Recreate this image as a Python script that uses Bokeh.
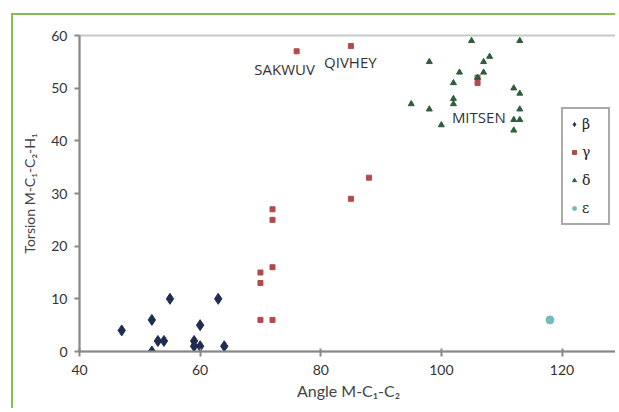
from bokeh.plotting import figure
from bokeh.models import ColumnDataSource, Range1d, Legend, LegendItem
from bokeh.core.properties import value
from bokeh.embed import file_html
from bokeh.resources import INLINE

# --- data -------------------------------------------------------------
beta_x = [47, 52, 52, 53, 54, 55, 59, 59, 60, 60, 63, 64]
beta_y = [4, 6, 0, 2, 2, 10, 2, 1, 5, 1, 10, 1]

gamma_x = [76, 85, 88, 85, 72, 72, 72, 70, 70, 70, 72, 106, 106]
gamma_y = [57, 58, 33, 29, 27, 25, 16, 15, 13, 6, 6, 51, 52]

delta_x = [105, 113, 98, 108, 107, 103, 107, 102, 106, 112, 113, 102, 102,
           95, 98, 113, 100, 112, 113, 112]
delta_y = [59, 59, 55, 56, 55, 53, 53, 51, 52, 50, 49, 48, 47,
           47, 46, 46, 43, 44, 44, 42]

eps_x = [118]
eps_y = [6]

label_names = ["SAKWUV", "QIVHEY", "MITSEN"]
label_x = [74, 84.9, 106.2]
label_y = [53.6, 54.9, 44.6]

x_ticks = [40, 60, 80, 100, 120]
y_ticks = [0, 10, 20, 30, 40, 50, 60]

# --- figure -----------------------------------------------------------
W, H = 604, 395
p = figure(width=W, height=H, output_backend="svg", toolbar_location=None,
           x_range=Range1d(40, 129.2), y_range=Range1d(0, 60),
           min_border_left=66, min_border_right=0, min_border_top=20,
           min_border_bottom=59)
p.styles = {"margin-left": "11px", "margin-top": "13px",
            "border-left": "2px solid #86bd55", "border-top": "2px solid #86bd55"}

p.background_fill_color = "white"
p.border_fill_color = "white"
p.outline_line_color = "#c8c8c8"
p.outline_line_width = 2
p.xgrid.visible = False
p.ygrid.visible = False

for ax in (p.xaxis[0], p.yaxis[0]):
    ax.axis_line_color = "#888888"
    ax.axis_line_width = 2
    ax.major_tick_line_color = "#888888"
    ax.major_tick_line_width = 2
    ax.major_tick_out = 5
    ax.major_tick_in = 0
    ax.minor_tick_line_color = None
    ax.major_label_text_font = "Lato"
    ax.major_label_text_font_size = "14px"
    ax.major_label_text_color = "#333333"
    ax.axis_label_text_font = "Lato"
    ax.axis_label_text_font_style = "normal"
    ax.axis_label_text_color = "#444444"

p.xaxis.ticker = x_ticks
p.yaxis.ticker = y_ticks
p.xaxis.major_tick_in = 3
p.xaxis.axis_label = "Angle M-C\u2081-C\u2082"
p.yaxis.axis_label = "Torsion M-C\u2081-C\u2082-H\u2081"
p.xaxis.axis_label_text_font_size = "16px"
p.yaxis.axis_label_text_font_size = "14px"
p.xaxis.axis_label_standoff = 3
p.yaxis.axis_label_standoff = 10
p.xaxis.major_label_standoff = 8
p.yaxis.major_label_standoff = 7

r_beta = p.scatter(beta_x, beta_y, marker="diamond", size=11,
                   color="#1f2d52")
r_gamma = p.scatter(gamma_x, gamma_y, marker="square", size=5,
                    color="#b04a4f")
r_delta = p.scatter(delta_x, delta_y, marker="triangle", size=6,
                    color="#2f5d3d")
r_eps = p.scatter(eps_x, eps_y, marker="circle", size=8,
                  color="#72bcbd")

src = ColumnDataSource(dict(x=label_x, y=label_y, t=label_names))
p.text("x", "y", text="t", source=src, text_font=value("Open Sans"),
       text_font_size="15px", text_color="#333333",
       text_align="center", text_baseline="middle")

legend = Legend(items=[
    LegendItem(label="\u03b2", renderers=[r_beta]),
    LegendItem(label="\u03b3", renderers=[r_gamma]),
    LegendItem(label="\u03b4", renderers=[r_delta]),
    LegendItem(label="\u03b5", renderers=[r_eps]),
], location=(482, 126))
legend.label_text_font = "DejaVu Serif"
legend.label_text_font_size = "14px"
legend.label_text_color = "#222222"
legend.border_line_color = "#555555"
legend.border_line_width = 2
legend.background_fill_alpha = 1
legend.glyph_width = 10
legend.glyph_height = 18
legend.label_height = 18
legend.label_standoff = 3
legend.spacing = 10
legend.padding = 6
legend.margin = 0
p.add_layout(legend, "center")

open("out.html", "w").write(file_html(p, INLINE))
